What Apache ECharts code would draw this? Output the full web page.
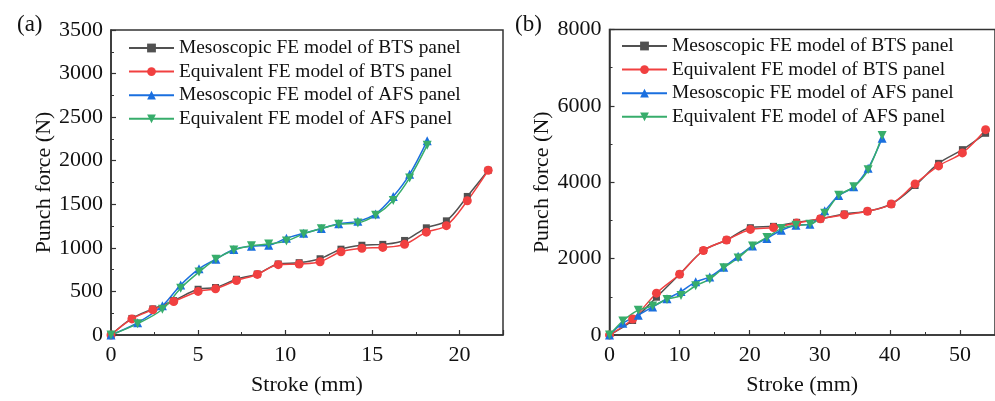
<!DOCTYPE html>
<html><head><meta charset="utf-8">
<script src="https://cdn.jsdelivr.net/npm/echarts@6/dist/echarts.min.js"></script>
<style>html,body{margin:0;padding:0;background:#fff}#c{width:995px;height:401px}</style>
</head><body><div id="c"></div>
<script>
// ---- Data: panel (a) ----
var aBtsX = [0,1.2,2.4,3.6,5.0,6.0,7.2,8.4,9.6,10.8,12.0,13.2,14.4,15.6,16.85,18.1,19.25,20.45,21.65];
var aBtsMeso = [0,190,300,395,525,545,640,700,815,830,875,985,1030,1040,1085,1230,1310,1590,1890];
var aBtsEquiv = [0,185,289,385,500,530,625,695,807,815,840,955,995,1005,1040,1180,1255,1540,1890];
var aAfsX = [0,1.53,2.95,4.0,5.05,6.02,7.05,8.06,9.05,10.07,11.06,12.07,13.07,14.17,15.19,16.2,17.14,18.15];
var aAfsMeso = [0,141,335,574,759,870,981,1019,1030,1111,1167,1222,1278,1304,1389,1590,1844,2230];
var aAfsEquiv = [0,130,295,537,722,870,975,1025,1045,1078,1160,1220,1270,1285,1375,1544,1803,2178];
// ---- Data: panel (b) ----
var bBtsX = [0,3.3,6.7,10.0,13.4,16.7,20.1,23.4,26.7,30.1,33.5,36.8,40.2,43.6,46.95,50.35,53.66];
var bBtsMeso = [0,380,990,1590,2213,2487,2810,2845,2950,3040,3170,3240,3430,3915,4495,4854,5282];
var bBtsEquiv = [0,418,1095,1590,2213,2487,2765,2813,2930,3044,3146,3238,3428,3956,4428,4769,5377];
var bAfsX = [0,1.9,4.1,6.15,8.2,10.2,12.3,14.3,16.3,18.35,20.4,22.45,24.5,26.6,28.6,30.7,32.7,34.85,36.9,38.9];
var bAfsMeso = [0,308,520,735,949,1136,1392,1521,1777,2059,2333,2530,2744,2872,2897,3256,3650,3880,4367,5154];
var bAfsEquiv = [0,367,650,761,931,1034,1290,1462,1761,2017,2333,2556,2787,2872,2897,3187,3659,3880,4326,5223];

var names = ['Mesoscopic FE model of BTS panel','Equivalent FE model of BTS panel','Mesoscopic FE model of AFS panel','Equivalent FE model of AFS panel'];
var colors = ['#515151','#F14040','#1A6FDF','#37AD6B'];
var panelLabels = ['(a)','(b)'];
var xTitle = 'Stroke (mm)';
var yTitle = 'Punch force (N)';

var FONT = 'Liberation Serif';
function pairs(xs, ys){ return xs.map(function(x,i){return [x, ys[i]];}); }
function plain(v){ return String(v); }

var seriesDefs = [
  {xs:aBtsX, ys:aBtsMeso, k:0, g:0, sym:'rect', size:7, rot:0},
  {xs:aBtsX, ys:aBtsEquiv, k:1, g:0, sym:'circle', size:9, rot:0},
  {xs:aAfsX, ys:aAfsMeso, k:2, g:0, sym:'triangle', size:9, rot:0},
  {xs:aAfsX, ys:aAfsEquiv, k:3, g:0, sym:'triangle', size:9, rot:180},
  {xs:bBtsX, ys:bBtsMeso, k:0, g:1, sym:'rect', size:7, rot:0},
  {xs:bBtsX, ys:bBtsEquiv, k:1, g:1, sym:'circle', size:9, rot:0},
  {xs:bAfsX, ys:bAfsMeso, k:2, g:1, sym:'triangle', size:9, rot:0},
  {xs:bAfsX, ys:bAfsEquiv, k:3, g:1, sym:'triangle', size:9, rot:180}
];

var series = seriesDefs.map(function(d){
  return {
    type:'line', name:names[d.k], xAxisIndex:d.g, yAxisIndex:d.g,
    data:pairs(d.xs, d.ys), smooth:0.35, symbol:d.sym, symbolSize:d.size, symbolRotate:d.rot,
    showAllSymbol:true,
    lineStyle:{color:colors[d.k], width:1.5},
    itemStyle:{color:colors[d.k]},
    emphasis:{disabled:true}, animation:false
  };
});

var axisCommon = {
  axisLine:{show:true, onZero:false, lineStyle:{color:'#333', width:1.5}},
  axisTick:{show:true, inside:true, length:5, lineStyle:{color:'#333', width:1.2}},
  minorTick:{show:true, splitNumber:2, length:3, lineStyle:{color:'#333', width:1}},
  splitLine:{show:false},
  nameTextStyle:{fontFamily:FONT, fontSize:22, color:'#111'},
  nameLocation:'middle'
};
function ax(extra){ return Object.assign(JSON.parse(JSON.stringify(axisCommon)), extra); }
function lbl(margin, hideMax){
  return {fontFamily:FONT, fontSize:22, color:'#111', margin:margin, formatter:plain, showMaxLabel:!hideMax};
}

var legendText = {fontFamily:FONT, fontSize:19.4, color:'#111', lineHeight:20};
var option = {
  backgroundColor:'#fff',
  animation:false,
  title: [
    {text:panelLabels[0], left:12, top:8, textStyle:{fontFamily:FONT, fontSize:23, fontWeight:'normal', color:'#111'}},
    {text:panelLabels[1], left:510, top:8, textStyle:{fontFamily:FONT, fontSize:23, fontWeight:'normal', color:'#111'}}
  ],
  grid: [
    {left:111, top:30, width:392, height:315, show:true, borderColor:'#333', borderWidth:1.5, backgroundColor:'transparent'},
    {left:609.5, top:29.5, width:388, height:313, show:true, borderColor:'#333', borderWidth:1.5, backgroundColor:'transparent'}
  ],
  xAxis: [
    ax({gridIndex:0, type:'value', min:0, max:22.5, interval:5, name:xTitle, nameGap:39, axisLabel:lbl(9, true)}),
    ax({gridIndex:1, type:'value', min:0, max:55, interval:10, name:xTitle, nameGap:39, axisLabel:lbl(9, true)})
  ],
  yAxis: [
    ax({gridIndex:0, type:'value', min:0, max:3500, interval:500, name:yTitle, nameGap:48, axisLabel:lbl(8, false)}),
    ax({gridIndex:1, type:'value', min:0, max:8000, interval:2000, name:yTitle, nameGap:48, axisLabel:lbl(8, false)})
  ],
  legend: [
    {left:128, top:38, padding:0, orient:'vertical', itemWidth:45, itemHeight:11, itemGap:3.6, data:names, selectedMode:false,
     textStyle:legendText},
    {left:621, top:36, padding:0, orient:'vertical', itemWidth:45, itemHeight:11, itemGap:3.6, data:names, selectedMode:false,
     textStyle:legendText}
  ],
  series: series
};
var chart = echarts.init(document.getElementById('c'), null, {renderer:'canvas'});
chart.setOption(option);
</script></body></html>
